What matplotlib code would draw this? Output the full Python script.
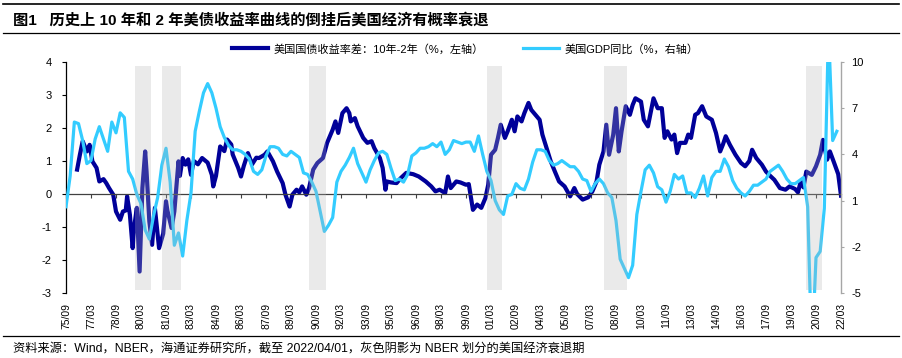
import matplotlib
matplotlib.use("Agg")
import matplotlib.pyplot as plt
from matplotlib.lines import Line2D
import numpy as np

plt.rcParams['font.family'] = ['Liberation Sans', 'Noto Sans CJK SC']
plt.rcParams['axes.unicode_minus'] = False

# ---------------- data ----------------
title = "图1   历史上 10 年和 2 年美债收益率曲线的倒挂后美国经济有概率衰退"
footer = "资料来源：Wind，NBER，海通证券研究所，截至 2022/04/01，灰色阴影为 NBER 划分的美国经济衰退期"
label_spread = "美国国债收益率差：10年-2年（%，左轴）"
label_gdp = "美国GDP同比（%，右轴）"

tick_labels = ['75/09', '77/03', '78/09', '80/03', '81/09', '83/03', '84/09', '86/03',
               '87/09', '89/03', '90/09', '92/03', '93/09', '95/03', '96/09', '98/03',
               '99/09', '01/03', '02/09', '04/03', '05/09', '07/03', '08/09', '10/03',
               '11/09', '13/03', '14/09', '16/03', '17/09', '19/03', '20/09', '22/03']

spread_months = [
    '1976-05', '1976-07', '1976-09', '1976-12', '1977-02', '1977-04', '1977-07', '1977-09', '1977-12',
    '1978-02', '1978-04', '1978-07', '1978-09', '1978-12', '1979-02', '1979-04', '1979-05', '1979-07',
    '1979-09', '1979-10', '1979-12', '1980-02', '1980-04', '1980-06', '1980-07', '1980-09', '1980-11',
    '1981-01', '1981-03', '1981-04', '1981-07', '1981-09', '1981-10', '1982-01', '1982-03', '1982-06',
    '1982-07', '1982-09', '1982-11', '1983-01', '1983-03', '1983-05', '1983-08', '1983-11', '1984-03',
    '1984-06', '1984-07', '1984-09', '1984-12', '1985-03', '1985-05', '1985-08', '1985-09', '1986-01',
    '1986-03', '1986-05', '1986-08', '1986-11', '1987-02', '1987-04', '1987-08', '1987-10', '1988-02',
    '1988-05', '1988-09', '1988-11', '1989-02', '1989-04', '1989-07', '1989-09', '1989-11', '1990-02',
    '1990-04', '1990-07', '1990-10', '1991-02', '1991-05', '1991-09', '1991-11', '1992-01', '1992-04',
    '1992-07', '1992-09', '1992-10', '1993-01', '1993-03', '1993-07', '1993-10', '1994-01', '1994-03',
    '1994-07', '1994-09', '1994-11', '1994-12', '1995-03', '1995-07', '1995-10', '1996-02', '1996-07',
    '1996-11', '1997-04', '1997-08', '1997-11', '1998-02', '1998-06', '1998-08', '1998-10', '1999-02',
    '1999-05', '1999-09', '1999-11', '2000-02', '2000-05', '2000-08', '2000-11', '2001-01', '2001-03',
    '2001-06', '2001-08', '2001-10', '2002-01', '2002-03', '2002-06', '2002-08', '2002-10', '2003-01',
    '2003-03', '2003-06', '2003-08', '2003-12', '2004-02', '2004-04', '2004-07', '2004-10', '2005-01',
    '2005-04', '2005-08', '2005-12', '2006-03', '2006-05', '2006-09', '2007-01', '2007-04', '2007-07',
    '2007-09', '2007-12', '2008-02', '2008-04', '2008-07', '2008-09', '2008-11', '2009-01', '2009-04',
    '2009-07', '2009-09', '2009-11', '2010-01', '2010-03', '2010-05', '2010-08', '2010-12', '2011-03',
    '2011-06', '2011-08', '2011-10', '2012-01', '2012-03', '2012-05', '2012-07', '2012-11', '2013-01',
    '2013-03', '2013-06', '2013-08', '2013-11', '2014-02', '2014-06', '2014-09', '2014-12', '2015-02',
    '2015-04', '2015-07', '2015-11', '2016-03', '2016-06', '2016-09', '2016-11', '2017-02', '2017-06',
    '2017-09', '2017-12', '2018-03', '2018-07', '2018-11', '2019-02', '2019-06', '2019-08', '2019-10',
    '2019-12', '2020-02', '2020-06', '2020-09', '2020-12', '2021-02', '2021-05', '2021-07', '2021-10',
    '2022-01', '2022-03']

spread_vals = [
    0.74, 1.19, 1.60, 1.29, 1.49, 0.99, 0.79, 0.38, 0.45,
    0.33, 0.18, -0.02, -0.53, -0.78, -0.53, -0.50, -0.07, -0.63,
    -1.64, -1.03, -0.42, -2.35, 0.18, 1.29, 0.68, -0.83, -1.54,
    -0.42, -1.23, -1.64, -1.20, -0.22, -0.50, -1.03, -0.53, 0.99,
    0.55, 1.09, 0.89, 1.05, 0.58, 1.00, 0.90, 1.09, 0.95,
    0.58, 0.23, 0.55, 1.44, 1.30, 1.65, 1.50, 1.20, 0.79,
    0.53, 0.85, 1.24, 0.90, 1.10, 1.09, 1.19, 1.29, 0.99,
    0.68, 0.33, -0.02, -0.38, -0.02, 0.13, 0.05, 0.23, -0.02,
    0.18, 0.74, 0.94, 1.09, 1.55, 1.95, 2.20, 1.85, 2.45,
    2.60, 2.45, 2.20, 2.30, 2.05, 1.70, 1.55, 1.60, 1.39,
    1.09, 0.79, 0.13, 0.38, 0.35, 0.33, 0.48, 0.64, 0.60,
    0.53, 0.38, 0.23, 0.08, 0.13, 0.03, 0.53, 0.18, 0.38,
    0.35, 0.28, 0.30, -0.48, -0.32, -0.42, -0.12, 0.28, 1.19,
    1.34, 1.70, 2.10, 1.70, 1.90, 2.25, 1.90, 2.35, 2.20,
    2.45, 2.76, 2.55, 2.35, 2.25, 1.80, 1.39, 0.99, 0.68,
    0.38, 0.23, -0.07, 0.18, 0.00, -0.17, -0.10, 0.08, 0.38,
    0.89, 1.29, 2.10, 1.19, 1.80, 2.60, 1.29, 1.90, 2.66,
    2.40, 2.70, 2.90, 2.85, 2.80, 2.25, 2.05, 2.90, 2.60,
    2.60, 1.70, 1.90, 1.65, 1.80, 1.24, 1.55, 1.55, 1.80,
    1.70, 2.40, 2.45, 2.66, 2.35, 2.25, 1.85, 1.29, 1.50,
    1.75, 1.49, 1.19, 0.94, 0.84, 1.00, 1.34, 1.09, 0.89,
    0.68, 0.55, 0.43, 0.18, 0.13, 0.23, 0.15, 0.05, 0.38,
    0.20, 0.68, 0.58, 0.84, 1.19, 1.64, 1.04, 1.29, 0.95,
    0.60, -0.05]

gdp_start_year = 1975   # first quarter: 1975Q3
gdp_start_q = 3
gdp_yoy = [
    0.6, 2.6,
    6.1, 6.0, 4.9, 3.4,
    3.6, 5.0, 5.8, 5.0,
    4.2, 6.1, 5.4, 6.7,
    6.4, 2.9, 2.4, 1.4,
    0.8, -0.9, -1.5, 0.0,
    1.2, 3.3, 4.4, 2.2,
    -1.9, -1.1, -2.6, -0.3,
    1.5, 5.5, 6.8, 8.0,
    8.6, 8.0, 7.0, 5.8,
    5.1, 4.6, 4.3, 4.3,
    4.2, 4.0, 3.7, 2.9,
    2.7, 3.0, 3.9, 4.5,
    4.5, 4.4, 4.0, 3.9,
    4.2, 4.0, 3.8, 2.8,
    2.7, 2.2, 1.6, 0.3,
    -1.0, -0.6, -0.1, 2.2,
    2.9, 3.3, 3.8, 4.4,
    3.4, 2.8, 2.2, 3.0,
    3.6, 4.1, 4.2, 4.0,
    3.1, 2.3, 2.4, 2.2,
    2.7, 3.9, 4.1, 4.4,
    4.4, 4.5, 4.7, 4.5,
    4.8, 4.0, 4.3, 4.9,
    4.8, 4.7, 4.8, 4.8,
    4.2, 5.2, 4.0, 2.9,
    2.3, 1.0, 0.4, 0.1,
    1.3, 1.4, 2.1, 1.8,
    1.7, 2.4, 3.5, 4.3,
    4.3, 4.2, 3.6, 3.3,
    3.4, 3.6, 3.4, 3.2,
    3.2, 2.9, 2.4, 2.3,
    1.6, 2.1, 2.4, 2.1,
    1.5, 1.2, -0.3, -2.8,
    -3.4, -4.0, -3.2, 0.1,
    1.6, 3.0, 3.3, 2.8,
    1.9, 1.7, 0.9, 1.6,
    2.7, 2.4, 2.6, 1.5,
    1.5, 1.2, 1.8, 2.6,
    1.3, 2.5, 2.9, 2.9,
    3.7, 3.2, 2.3, 1.8,
    1.5, 1.3, 1.6, 2.0,
    2.0, 2.2, 2.4, 2.9,
    3.1, 3.3, 2.9, 2.4,
    2.1, 2.1, 2.3, 2.5,
    0.6, -9.1, -2.7, -2.3,
    0.5, 12.2, 4.9, 5.5]

recession_start = ['1979-11', '1981-06', '1990-04', '2000-12', '2007-12', '2020-02']
recession_end = ['1980-10', '1982-08', '1991-04', '2001-11', '2009-05', '2021-01']


def ym(s):
    y, m = s.split('-')
    return int(y) + (int(m) - 1) / 12.0


def tick_pos(lbl):
    yy, mm = lbl.split('/')
    yy = int(yy)
    yy = 1900 + yy if yy > 50 else 2000 + yy
    return yy + (int(mm) - 1) / 12.0


spread_x = np.array([ym(s) for s in spread_months])
gdp_x = []
yr, q = gdp_start_year, gdp_start_q
for _ in gdp_yoy:
    gdp_x.append(yr + (3 * q - 1) / 12.0)
    q += 1
    if q > 4:
        q = 1
        yr += 1
gdp_x = np.array(gdp_x)
ticks = [tick_pos(t) for t in tick_labels]

# ---------------- figure ----------------
W, H = 902, 358
fig = plt.figure(figsize=(W / 100, H / 100), dpi=100)
ax = fig.add_axes([66 / W, 1 - 293 / H, (841 - 66) / W, (293 - 62) / H])
ax2 = ax.twinx()

navy = '#000099'
light = '#33ccff'

l1, = ax.plot(spread_x, spread_vals, color=navy, lw=3.0, solid_joinstyle='round')
l2, = ax2.plot(gdp_x, gdp_yoy, color=light, lw=2.3, solid_joinstyle='round')

for s, e in zip(recession_start, recession_end):
    ax2.axvspan(ym(s), ym(e), ymin=0.013, ymax=0.983, color='#b6b6b6', alpha=0.28,
                lw=0, zorder=5)

ax.set_xlim(ticks[0], ticks[-1])
ax.set_ylim(-3, 4)
ax.set_yticks(range(-3, 5))
ax2.set_ylim(-5, 10)
ax2.set_yticks(range(-5, 11, 3))

for sp in ['top']:
    ax.spines[sp].set_visible(False)
    ax2.spines[sp].set_visible(False)
ax2.spines['left'].set_visible(False)
ax2.spines['bottom'].set_visible(False)
ax.spines['right'].set_visible(False)
ax2.spines['right'].set_color('#a6a6a6')
ax2.spines['right'].set_linewidth(1.0)
ax.spines['left'].set_color('black')
ax.spines['left'].set_linewidth(0.9)
ax.spines['bottom'].set_position(('data', 0))
ax.spines['bottom'].set_color('#404040')
ax.spines['bottom'].set_linewidth(0.9)

ax.set_xticks(ticks)
ax.tick_params(axis='x', direction='out', length=3, width=0.8, color='#404040',
               labelbottom=False)
ax.tick_params(axis='y', direction='out', length=3, width=0.8, labelsize=8, pad=7.5)
ax2.tick_params(axis='y', direction='out', length=2.5, width=0.8, color='#a6a6a6',
                labelsize=8, pad=5)

sec = ax.secondary_xaxis('bottom')
sec.set_xticks(ticks, labels=tick_labels)
sec.tick_params(axis='x', length=0, pad=7, labelsize=7.5, labelrotation=90)
sec.spines['bottom'].set_visible(False)

# legend
leg = fig.legend([l1, l2], [label_spread, label_gdp], loc='center left',
                 bbox_to_anchor=(232 / W, 1 - 49 / H), ncol=2, frameon=False,
                 fontsize=8, handlelength=3.2, handletextpad=0.5, columnspacing=3.6,
                 borderpad=0, borderaxespad=0)

# title, rules, footer
fig.text(13 / W, 1 - 20 / H, title, fontsize=11, fontweight='bold', va='center', ha='left')
fig.add_artist(Line2D([0.003, 0.997], [1 - 4 / H, 1 - 4 / H], color='black', lw=1.2,
                      transform=fig.transFigure))
fig.add_artist(Line2D([0.003, 0.997], [1 - 33 / H, 1 - 33 / H], color='black', lw=0.9,
                      transform=fig.transFigure))
fig.add_artist(Line2D([0.003, 0.997], [1 - 336 / H, 1 - 336 / H], color='black', lw=0.9,
                      transform=fig.transFigure))
fig.text(13 / W, 1 - 350 / H, footer, fontsize=8.8, va='center', ha='left')

fig.savefig('out.png', dpi=100)
